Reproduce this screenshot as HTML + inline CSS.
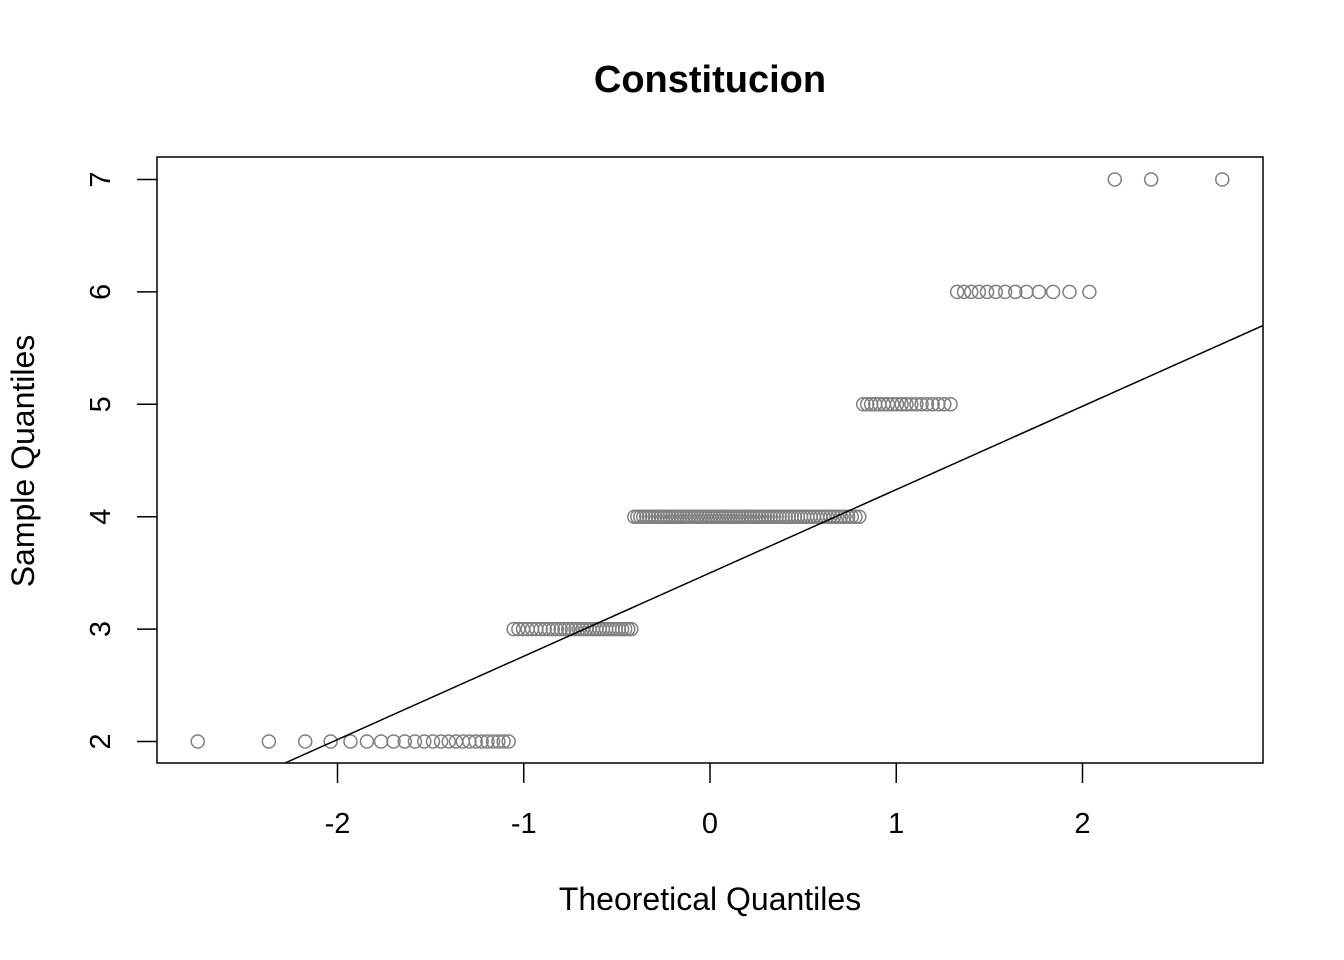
<!DOCTYPE html>
<html><head><meta charset="utf-8"><style>
body{margin:0;background:#fff}
svg{display:block;font-family:"Liberation Sans",Arial,sans-serif}
</style></head><body>
<svg id="chart" width="1344" height="960">
<text x="710" y="92" text-anchor="middle" font-size="38" font-weight="bold">Constitucion</text>
<text x="710" y="910" text-anchor="middle" font-size="32">Theoretical Quantiles</text>
<text transform="translate(34,461) rotate(-90)" text-anchor="middle" font-size="32">Sample Quantiles</text>
<rect x="157" y="157" width="1106" height="606" fill="none" stroke="#000" stroke-width="1.5"/>
<g id="marks"></g>
</svg>
<script>
const sampleValues = [2,3,4,5,6,7];
const sampleCounts = [24,33,76,19,13,3];
const xTicks = [-2,-1,0,1,2];
const yTicks = [2,3,4,5,6,7];
const NS="http://www.w3.org/2000/svg";
const X = v => 710 + v*186.25;
const Y = v => 741.5 - (v-2)*112.4;
function qnorm(p){
  const a=[-39.69683028665376,220.9460984245205,-275.9285104469687,138.357751867269,-30.66479806614716,2.506628277459239];
  const b=[-54.47609879822406,161.5858368580409,-155.6989798598866,66.80131188771972,-13.28068155288572];
  const c=[-0.007784894002430293,-0.3223964580411365,-2.400758277161838,-2.549732539343734,4.374664141464968,2.938163982698783];
  const d=[0.007784695709041462,0.3224671290700398,2.445134137142996,3.754408661907416];
  let q,r;
  if(p<0.02425){q=Math.sqrt(-2*Math.log(p));return (((((c[0]*q+c[1])*q+c[2])*q+c[3])*q+c[4])*q+c[5])/((((d[0]*q+d[1])*q+d[2])*q+d[3])*q+1);}
  if(p>1-0.02425){q=Math.sqrt(-2*Math.log(1-p));return -(((((c[0]*q+c[1])*q+c[2])*q+c[3])*q+c[4])*q+c[5])/((((d[0]*q+d[1])*q+d[2])*q+d[3])*q+1);}
  q=p-0.5;r=q*q;return (((((a[0]*r+a[1])*r+a[2])*r+a[3])*r+a[4])*r+a[5])*q/(((((b[0]*r+b[1])*r+b[2])*r+b[3])*r+b[4])*r+1);
}
const svg=document.getElementById('chart'), g=document.getElementById('marks');
function el(t,attrs,parent){const e=document.createElementNS(NS,t);for(const k in attrs)e.setAttribute(k,attrs[k]);(parent||g).appendChild(e);return e;}
const data=[];
sampleValues.forEach((v,i)=>{for(let k=0;k<sampleCounts[i];k++)data.push(v);});
const n=data.length;
data.forEach((v,i)=>{
  const t=qnorm((i+1-0.5)/n);
  const c=el('circle',{cx:X(t),cy:Y(v),r:6.5,fill:'none',stroke:'#7f7f7f','stroke-width':1.5});
  
  
});
function quant(p){const h=(n-1)*p,lo=Math.floor(h);return data[lo]+(h-lo)*((data[lo+1]??data[lo])-data[lo]);}
const y1=quant(0.25),y2=quant(0.75),x1=qnorm(0.25),x2=qnorm(0.75);
const slope=(y2-y1)/(x2-x1),icp=y1-slope*x1;
const clip=el('clipPath',{id:'pc'},svg);el('rect',{x:157,y:157,width:1106,height:606},clip);
const xa=-2.9,xb=2.97;
const ln=el('line',{x1:X(xa),y1:Y(icp+slope*xa),x2:X(xb),y2:Y(icp+slope*xb),stroke:'#000','stroke-width':1.5,'clip-path':'url(#pc)'});


xTicks.forEach(v=>{
  const l=el('line',{x1:X(v),x2:X(v),y1:763,y2:783,stroke:'#000','stroke-width':1.5});
  
  
  const t=el('text',{x:X(v),y:833,'text-anchor':'middle','font-size':29});t.textContent=v;
  
  
});
yTicks.forEach(v=>{
  const l=el('line',{x1:137,x2:157,y1:Y(v),y2:Y(v),stroke:'#000','stroke-width':1.5});
  
  
  const t=el('text',{transform:`translate(110,${Y(v)}) rotate(-90)`,'text-anchor':'middle','font-size':29});t.textContent=v;
  
  
});
</script>
</body></html>
